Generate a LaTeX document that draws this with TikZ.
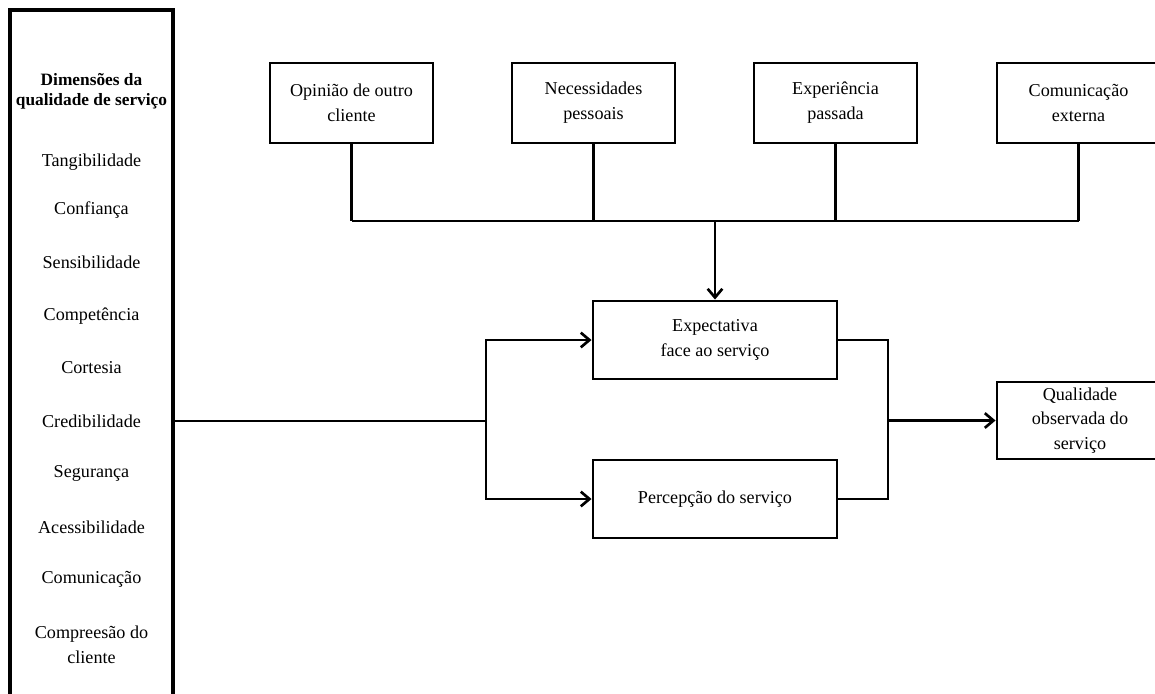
\documentclass[tikz,border=0pt]{standalone}
\usepackage{fontspec}
\setmainfont{Liberation Serif}
\usetikzlibrary{arrows.meta,positioning,calc}
\tikzset{
  qsBox/.style={draw=black, line width=2.2pt, fill=white, inner sep=0pt,
    minimum width=122.25pt, minimum height=60pt,
    font=\fontsize{13.6}{18.6}\selectfont, align=center},
  qsMid/.style={qsBox, minimum width=183pt, minimum height=58.5pt},
  qsOut/.style={qsBox, minimum width=124.5pt, minimum height=57.75pt},
  qsFrame/.style={draw=black, line width=2.4pt, inner sep=0pt,
    minimum width=122.25pt, minimum height=532.5pt},
  qsItem/.style={font=\fontsize{13.6}{18.6}\selectfont, align=center, inner sep=0pt},
  qsHead/.style={font=\fontsize{13}{14.6}\selectfont\bfseries, align=center, inner sep=0pt},
  %% connectors
  qsLine/.style={line width=2.2pt},
  qsArr/.style={line width=2.2pt, -{Straight Barb[length=6.5pt, width=11pt, line width=2pt]}},
}
\begin{document}
\begin{tikzpicture}[x=0.75pt, y=-0.75pt]
\useasboundingbox (0,0) rectangle (1155,693);

% dimensoes
\node[qsFrame] (dimbox) at (91.5,365) {};
\node[qsHead] (dHead) at (91.5,91.5) {Dimensões da\\qualidade de serviço};
\foreach \y/\txt [count=\i] in {162/Tangibilidade, 210/Confiança, 262/Sensibilidade,
    316/Competência, 368/Cortesia, 421/Credibilidade, 473/Segurança,
    527/Acessibilidade, 579/Comunicação, 644.5/{Compreesão do\\cliente}}
  \node[qsItem] (d\i) at (91.5,\y) {\txt};

% fontes da expectativa
\node[qsBox] (pOpin) at (351.5,103) {Opinião de outro\\cliente};
\node[qsBox] (pNec)  at (593.5,103) {Necessidades\\pessoais};
\node[qsBox] (pExp)  at (835.5,103) {Experiência\\passada};
\node[qsBox] (pCom)  at (1078.5,103) {Comunicação\\externa};

\node[qsMid] (pExpect) at (715,340) {Expectativa\\face ao serviço};
\node[qsMid] (pPerc)   at (715,499) {Percepção do serviço};
\node[qsOut] (pQual)   at (1080,420.5) {Qualidade\\observada do\\serviço};

\coordinate (bus)   at (715,221);
\coordinate (split) at (486,421);
\coordinate (merge) at (888,420.5);

\foreach \n in {pOpin, pNec, pExp, pCom}
  \draw[qsLine] (\n.south) -- (\n.south |- bus);
\draw[qsLine] (pOpin.south |- bus) -- (pCom.south |- bus);
\draw[qsArr] (bus) -- (pExpect);

\draw[qsLine] (dimbox.east |- d6) -- (split);
\draw[qsArr] (split) |- (pExpect);
\draw[qsArr] (split) |- (pPerc);

\draw[qsLine] (pExpect.east) -| (merge) |- (pPerc.east);
\draw[qsArr] (merge) -- (pQual);

\end{tikzpicture}
\end{document}
